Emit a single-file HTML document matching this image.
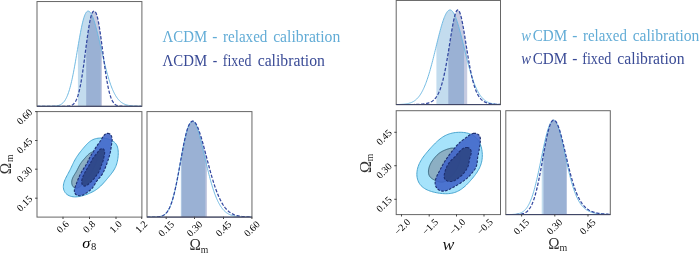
<!DOCTYPE html>
<html><head><meta charset="utf-8"><style>
html,body{margin:0;padding:0;background:#fff;overflow:hidden;}
svg{display:block;}
.t{font-family:"Liberation Serif",serif;font-size:10.0px;fill:#000;}
.ax{font-family:"Liberation Serif",serif;font-size:17px;fill:#111;}
.lg{font-family:"Liberation Serif",serif;font-size:16.5px;}
</style></head><body>
<div style="position:absolute;left:0;top:0;width:700px;height:253px;will-change:transform"><svg width="700" height="253" viewBox="0 0 700 253">
<rect width="700" height="253" fill="#fff"/>
<clipPath id="ca"><rect x="37" y="1.55" width="104.9" height="104.75"/></clipPath>
<g clip-path="url(#ca)">
<path d="M77.90,106.3 L77.90,47.06 L78.00,46.47 L78.50,43.52 L79.00,40.62 L79.50,37.77 L80.00,35.00 L80.50,32.32 L81.00,29.74 L81.50,27.29 L82.00,24.97 L82.50,22.80 L83.00,20.80 L83.50,18.96 L84.00,17.31 L84.50,15.85 L85.00,14.58 L85.50,13.51 L86.00,12.65 L86.50,11.97 L87.00,11.50 L87.50,11.20 L88.00,11.08 L88.50,11.10 L89.00,11.28 L89.50,11.60 L90.00,12.07 L90.50,12.68 L91.00,13.43 L91.50,14.31 L92.00,15.31 L92.50,16.44 L93.00,17.69 L93.50,19.05 L94.00,20.51 L94.50,22.07 L95.00,23.72 L95.50,25.46 L96.00,27.28 L96.50,29.16 L97.00,31.11 L97.50,33.12 L98.00,35.17 L98.50,37.26 L99.00,39.39 L99.50,41.55 L100.00,43.72 L100.50,45.91 L100.80,47.23 L100.80,106.3 Z" fill="#c3dcee"/>
<path d="M86.20,106.3 L86.20,45.78 L86.50,43.50 L87.00,39.76 L87.50,36.12 L88.00,32.63 L88.50,29.31 L89.00,26.21 L89.50,23.34 L90.00,20.74 L90.50,18.43 L91.00,16.43 L91.50,14.74 L92.00,13.38 L92.50,12.35 L93.00,11.64 L93.50,11.22 L94.00,11.08 L94.50,11.13 L95.00,11.43 L95.50,12.03 L96.00,12.93 L96.50,14.16 L97.00,15.72 L97.50,17.59 L98.00,19.78 L98.50,22.27 L99.00,25.03 L99.50,28.04 L100.00,31.28 L100.50,34.70 L101.00,38.29 L101.50,41.99 L102.00,45.78 L102.00,106.3 Z" fill="#2b3f8f" fill-opacity="0.27"/>
</g>
<g clip-path="url(#ca)">
<path d="M37.00,106.30 L37.50,106.30 L38.00,106.30 L38.50,106.30 L39.00,106.30 L39.50,106.30 L40.00,106.30 L40.50,106.30 L41.00,106.30 L41.50,106.30 L42.00,106.30 L42.50,106.30 L43.00,106.30 L43.50,106.30 L44.00,106.30 L44.50,106.30 L45.00,106.30 L45.50,106.30 L46.00,106.30 L46.50,106.30 L47.00,106.29 L47.50,106.29 L48.00,106.29 L48.50,106.29 L49.00,106.28 L49.50,106.28 L50.00,106.27 L50.50,106.27 L51.00,106.26 L51.50,106.25 L52.00,106.23 L52.50,106.22 L53.00,106.20 L53.50,106.17 L54.00,106.14 L54.50,106.11 L55.00,106.07 L55.50,106.02 L56.00,105.96 L56.50,105.89 L57.00,105.80 L57.50,105.71 L58.00,105.59 L58.50,105.46 L59.00,105.30 L59.50,105.11 L60.00,104.90 L60.50,104.66 L61.00,104.38 L61.50,104.06 L62.00,103.70 L62.50,103.28 L63.00,102.82 L63.50,102.29 L64.00,101.70 L64.50,101.04 L65.00,100.30 L65.50,99.48 L66.00,98.58 L66.50,97.59 L67.00,96.49 L67.50,95.30 L68.00,94.00 L68.50,92.60 L69.00,91.08 L69.50,89.44 L70.00,87.69 L70.50,85.82 L71.00,83.83 L71.50,81.73 L72.00,79.51 L72.50,77.18 L73.00,74.74 L73.50,72.20 L74.00,69.57 L74.50,66.86 L75.00,64.07 L75.50,61.22 L76.00,58.31 L76.50,55.37 L77.00,52.41 L77.50,49.43 L78.00,46.47 L78.50,43.52 L79.00,40.62 L79.50,37.77 L80.00,35.00 L80.50,32.32 L81.00,29.74 L81.50,27.29 L82.00,24.97 L82.50,22.80 L83.00,20.80 L83.50,18.96 L84.00,17.31 L84.50,15.85 L85.00,14.58 L85.50,13.51 L86.00,12.65 L86.50,11.97 L87.00,11.50 L87.50,11.20 L88.00,11.08 L88.50,11.10 L89.00,11.28 L89.50,11.60 L90.00,12.07 L90.50,12.68 L91.00,13.43 L91.50,14.31 L92.00,15.31 L92.50,16.44 L93.00,17.69 L93.50,19.05 L94.00,20.51 L94.50,22.07 L95.00,23.72 L95.50,25.46 L96.00,27.28 L96.50,29.16 L97.00,31.11 L97.50,33.12 L98.00,35.17 L98.50,37.26 L99.00,39.39 L99.50,41.55 L100.00,43.72 L100.50,45.91 L101.00,48.10 L101.50,50.30 L102.00,52.48 L102.50,54.66 L103.00,56.81 L103.50,58.94 L104.00,61.05 L104.50,63.12 L105.00,65.15 L105.50,67.15 L106.00,69.09 L106.50,71.00 L107.00,72.85 L107.50,74.64 L108.00,76.39 L108.50,78.07 L109.00,79.70 L109.50,81.27 L110.00,82.78 L110.50,84.22 L111.00,85.61 L111.50,86.94 L112.00,88.21 L112.50,89.41 L113.00,90.56 L113.50,91.65 L114.00,92.69 L114.50,93.67 L115.00,94.59 L115.50,95.46 L116.00,96.28 L116.50,97.05 L117.00,97.78 L117.50,98.45 L118.00,99.09 L118.50,99.68 L119.00,100.23 L119.50,100.74 L120.00,101.22 L120.50,101.66 L121.00,102.07 L121.50,102.45 L122.00,102.80 L122.50,103.12 L123.00,103.42 L123.50,103.69 L124.00,103.94 L124.50,104.17 L125.00,104.38 L125.50,104.57 L126.00,104.74 L126.50,104.90 L127.00,105.04 L127.50,105.17 L128.00,105.29 L128.50,105.40 L129.00,105.50 L129.50,105.59 L130.00,105.66 L130.50,105.73 L131.00,105.80 L131.50,105.86 L132.00,105.91 L132.50,105.95 L133.00,105.99 L133.50,106.03 L134.00,106.06 L134.50,106.09 L135.00,106.12 L135.50,106.14 L136.00,106.16 L136.50,106.18 L137.00,106.19 L137.50,106.21 L138.00,106.22 L138.50,106.23 L139.00,106.24 L139.50,106.25 L140.00,106.25 L140.50,106.26 L141.00,106.27 L141.50,106.27" fill="none" stroke="#6ab6e0" stroke-width="0.95"/>
<path d="M37.00,106.30 L37.50,106.30 L38.00,106.30 L38.50,106.30 L39.00,106.30 L39.50,106.30 L40.00,106.30 L40.50,106.30 L41.00,106.30 L41.50,106.30 L42.00,106.30 L42.50,106.30 L43.00,106.30 L43.50,106.30 L44.00,106.30 L44.50,106.30 L45.00,106.30 L45.50,106.30 L46.00,106.30 L46.50,106.30 L47.00,106.30 L47.50,106.30 L48.00,106.30 L48.50,106.30 L49.00,106.30 L49.50,106.30 L50.00,106.30 L50.50,106.30 L51.00,106.30 L51.50,106.30 L52.00,106.30 L52.50,106.30 L53.00,106.30 L53.50,106.30 L54.00,106.30 L54.50,106.30 L55.00,106.30 L55.50,106.30 L56.00,106.30 L56.50,106.30 L57.00,106.30 L57.50,106.30 L58.00,106.30 L58.50,106.30 L59.00,106.30 L59.50,106.30 L60.00,106.30 L60.50,106.30 L61.00,106.30 L61.50,106.30 L62.00,106.30 L62.50,106.29 L63.00,106.29 L63.50,106.29 L64.00,106.28 L64.50,106.28 L65.00,106.27 L65.50,106.26 L66.00,106.24 L66.50,106.22 L67.00,106.20 L67.50,106.16 L68.00,106.12 L68.50,106.07 L69.00,106.00 L69.50,105.92 L70.00,105.81 L70.50,105.68 L71.00,105.52 L71.50,105.32 L72.00,105.08 L72.50,104.79 L73.00,104.44 L73.50,104.02 L74.00,103.53 L74.50,102.95 L75.00,102.27 L75.50,101.47 L76.00,100.56 L76.50,99.51 L77.00,98.31 L77.50,96.96 L78.00,95.44 L78.50,93.73 L79.00,91.84 L79.50,89.76 L80.00,87.48 L80.50,85.00 L81.00,82.32 L81.50,79.45 L82.00,76.39 L82.50,73.16 L83.00,69.76 L83.50,66.23 L84.00,62.57 L84.50,58.82 L85.00,55.01 L85.50,51.16 L86.00,47.31 L86.50,43.50 L87.00,39.76 L87.50,36.12 L88.00,32.63 L88.50,29.31 L89.00,26.21 L89.50,23.34 L90.00,20.74 L90.50,18.43 L91.00,16.43 L91.50,14.74 L92.00,13.38 L92.50,12.35 L93.00,11.64 L93.50,11.22 L94.00,11.08 L94.50,11.13 L95.00,11.43 L95.50,12.03 L96.00,12.93 L96.50,14.16 L97.00,15.72 L97.50,17.59 L98.00,19.78 L98.50,22.27 L99.00,25.03 L99.50,28.04 L100.00,31.28 L100.50,34.70 L101.00,38.29 L101.50,41.99 L102.00,45.78 L102.50,49.62 L103.00,53.47 L103.50,57.30 L104.00,61.08 L104.50,64.78 L105.00,68.36 L105.50,71.82 L106.00,75.12 L106.50,78.25 L107.00,81.20 L107.50,83.95 L108.00,86.51 L108.50,88.87 L109.00,91.04 L109.50,93.00 L110.00,94.78 L110.50,96.37 L111.00,97.79 L111.50,99.05 L112.00,100.16 L112.50,101.12 L113.00,101.96 L113.50,102.69 L114.00,103.31 L114.50,103.84 L115.00,104.28 L115.50,104.66 L116.00,104.97 L116.50,105.23 L117.00,105.44 L117.50,105.62 L118.00,105.76 L118.50,105.88 L119.00,105.97 L119.50,106.04 L120.00,106.10 L120.50,106.15 L121.00,106.18 L121.50,106.21 L122.00,106.23 L122.50,106.25 L123.00,106.26 L123.50,106.27 L124.00,106.28 L124.50,106.29 L125.00,106.29 L125.50,106.29 L126.00,106.29 L126.50,106.30 L127.00,106.30 L127.50,106.30 L128.00,106.30 L128.50,106.30 L129.00,106.30 L129.50,106.30 L130.00,106.30 L130.50,106.30 L131.00,106.30 L131.50,106.30 L132.00,106.30 L132.50,106.30 L133.00,106.30 L133.50,106.30 L134.00,106.30 L134.50,106.30 L135.00,106.30 L135.50,106.30 L136.00,106.30 L136.50,106.30 L137.00,106.30 L137.50,106.30 L138.00,106.30 L138.50,106.30 L139.00,106.30 L139.50,106.30 L140.00,106.30 L140.50,106.30 L141.00,106.30 L141.50,106.30" fill="none" stroke="#3247a0" stroke-width="1.25" stroke-dasharray="3.3,1.7"/>
</g>
<rect x="37" y="1.55" width="104.90" height="104.75" fill="none" stroke="#666666" stroke-width="1.0"/>
<line x1="37" y1="106.3" x2="141.9" y2="106.3" stroke="#3b4265" stroke-width="1.0"/>
<clipPath id="cb"><rect x="37" y="111.6" width="104.9" height="105.5"/></clipPath>
<g clip-path="url(#cb)">
<path d="M99.50,138.10 L100.98,138.06 L102.48,138.11 L104.00,138.25 L105.50,138.47 L106.98,138.76 L108.42,139.14 L109.79,139.58 L111.07,140.11 L112.27,140.70 L113.36,141.38 L114.34,142.13 L115.20,142.97 L115.94,143.88 L116.57,144.88 L117.09,145.96 L117.50,147.12 L117.81,148.36 L118.04,149.66 L118.18,151.02 L118.25,152.44 L118.25,153.88 L118.19,155.36 L118.07,156.84 L117.90,158.31 L117.67,159.77 L117.39,161.21 L117.06,162.60 L116.67,163.95 L116.24,165.25 L115.74,166.50 L115.20,167.70 L114.60,168.86 L113.95,169.98 L113.25,171.07 L112.51,172.14 L111.73,173.20 L110.92,174.26 L110.07,175.31 L109.20,176.38 L108.31,177.45 L107.40,178.54 L106.48,179.63 L105.55,180.72 L104.60,181.81 L103.64,182.89 L102.67,183.95 L101.69,184.98 L100.69,185.97 L99.68,186.92 L98.64,187.82 L97.59,188.67 L96.52,189.46 L95.42,190.20 L94.30,190.89 L93.15,191.54 L91.98,192.14 L90.78,192.71 L89.55,193.26 L88.30,193.77 L87.02,194.27 L85.71,194.74 L84.37,195.18 L83.01,195.60 L81.62,195.97 L80.21,196.30 L78.78,196.56 L77.35,196.76 L75.91,196.86 L74.48,196.87 L73.07,196.77 L71.70,196.54 L70.38,196.19 L69.12,195.70 L67.96,195.09 L66.89,194.35 L65.95,193.48 L65.13,192.51 L64.47,191.43 L63.95,190.27 L63.59,189.04 L63.39,187.75 L63.34,186.43 L63.44,185.08 L63.67,183.72 L64.03,182.35 L64.48,181.00 L65.02,179.66 L65.62,178.34 L66.27,177.03 L66.94,175.75 L67.61,174.49 L68.29,173.24 L68.95,172.00 L69.59,170.77 L70.21,169.56 L70.81,168.34 L71.38,167.13 L71.95,165.93 L72.52,164.72 L73.09,163.52 L73.67,162.32 L74.28,161.12 L74.93,159.93 L75.60,158.75 L76.32,157.57 L77.07,156.40 L77.86,155.24 L78.68,154.08 L79.54,152.93 L80.41,151.79 L81.30,150.66 L82.19,149.55 L83.10,148.45 L84.00,147.37 L84.91,146.31 L85.83,145.29 L86.75,144.30 L87.68,143.36 L88.64,142.48 L89.63,141.66 L90.66,140.91 L91.74,140.24 L92.88,139.66 L94.08,139.16 L95.35,138.75 L96.67,138.44 L98.06,138.22 Z" fill="#a6e3fb" fill-opacity="1.0" stroke="#4aa6d0" stroke-width="1.0"/>
<path d="M93.13,152.05 L93.71,152.12 L94.26,152.29 L94.78,152.57 L95.25,152.95 L95.68,153.42 L96.06,153.98 L96.37,154.60 L96.63,155.29 L96.82,156.03 L96.96,156.80 L97.03,157.59 L97.04,158.39 L96.99,159.19 L96.90,159.98 L96.75,160.75 L96.57,161.49 L96.35,162.22 L96.11,162.91 L95.84,163.58 L95.55,164.23 L95.25,164.86 L94.95,165.48 L94.64,166.10 L94.33,166.71 L94.02,167.33 L93.70,167.95 L93.39,168.59 L93.08,169.23 L92.76,169.89 L92.44,170.56 L92.11,171.24 L91.77,171.92 L91.43,172.60 L91.07,173.28 L90.71,173.95 L90.32,174.61 L89.93,175.25 L89.53,175.88 L89.11,176.48 L88.69,177.07 L88.26,177.64 L87.82,178.19 L87.38,178.73 L86.93,179.26 L86.48,179.78 L86.03,180.30 L85.57,180.83 L85.11,181.36 L84.64,181.91 L84.16,182.46 L83.67,183.02 L83.17,183.59 L82.65,184.16 L82.11,184.72 L81.56,185.28 L80.98,185.81 L80.39,186.32 L79.78,186.78 L79.14,187.20 L78.50,187.54 L77.85,187.82 L77.19,188.01 L76.54,188.12 L75.90,188.13 L75.28,188.04 L74.69,187.85 L74.13,187.56 L73.61,187.18 L73.15,186.72 L72.75,186.17 L72.40,185.56 L72.13,184.89 L71.92,184.17 L71.79,183.42 L71.72,182.65 L71.73,181.86 L71.79,181.08 L71.92,180.31 L72.10,179.56 L72.33,178.83 L72.59,178.12 L72.89,177.44 L73.22,176.78 L73.56,176.15 L73.92,175.54 L74.29,174.94 L74.65,174.35 L75.02,173.76 L75.39,173.18 L75.75,172.58 L76.10,171.97 L76.45,171.35 L76.79,170.72 L77.13,170.07 L77.47,169.40 L77.81,168.73 L78.15,168.04 L78.49,167.36 L78.84,166.67 L79.20,165.99 L79.56,165.33 L79.94,164.67 L80.32,164.04 L80.71,163.42 L81.11,162.83 L81.51,162.25 L81.93,161.70 L82.35,161.15 L82.78,160.62 L83.21,160.09 L83.66,159.57 L84.12,159.04 L84.58,158.50 L85.06,157.96 L85.55,157.40 L86.06,156.84 L86.58,156.27 L87.11,155.69 L87.67,155.13 L88.24,154.58 L88.83,154.05 L89.43,153.56 L90.04,153.12 L90.66,152.74 L91.29,152.43 L91.91,152.21 L92.53,152.08 Z" fill="#8cafc3" fill-opacity="1.0" stroke="#3b6980" stroke-width="1.0"/>
<path d="M107.86,133.23 L108.88,133.41 L109.84,133.91 L110.66,134.68 L111.32,135.67 L111.78,136.82 L112.06,138.06 L112.16,139.33 L112.13,140.59 L112.01,141.81 L111.83,142.99 L111.64,144.13 L111.46,145.27 L111.29,146.40 L111.12,147.56 L110.95,148.74 L110.77,149.94 L110.55,151.16 L110.31,152.37 L110.02,153.57 L109.72,154.74 L109.39,155.89 L109.05,157.02 L108.71,158.14 L108.37,159.25 L108.01,160.37 L107.64,161.50 L107.25,162.64 L106.84,163.79 L106.41,164.94 L105.97,166.09 L105.52,167.22 L105.07,168.33 L104.62,169.43 L104.16,170.51 L103.68,171.57 L103.16,172.62 L102.58,173.65 L101.94,174.66 L101.24,175.65 L100.48,176.61 L99.69,177.55 L98.89,178.47 L98.10,179.38 L97.36,180.30 L96.66,181.24 L96.02,182.21 L95.42,183.21 L94.82,184.24 L94.21,185.28 L93.56,186.32 L92.85,187.32 L92.07,188.28 L91.23,189.18 L90.34,190.00 L89.43,190.77 L88.51,191.49 L87.57,192.17 L86.63,192.83 L85.66,193.48 L84.65,194.11 L83.58,194.68 L82.44,195.17 L81.23,195.53 L79.99,195.72 L78.75,195.70 L77.58,195.45 L76.52,194.97 L75.64,194.27 L74.98,193.39 L74.55,192.35 L74.36,191.22 L74.38,190.04 L74.58,188.83 L74.89,187.64 L75.29,186.47 L75.72,185.33 L76.16,184.20 L76.58,183.10 L77.00,182.00 L77.42,180.89 L77.84,179.79 L78.27,178.68 L78.73,177.57 L79.22,176.47 L79.73,175.37 L80.27,174.29 L80.84,173.23 L81.42,172.18 L82.02,171.15 L82.64,170.12 L83.28,169.11 L83.92,168.11 L84.57,167.10 L85.22,166.10 L85.85,165.08 L86.45,164.05 L87.03,163.00 L87.59,161.94 L88.12,160.86 L88.65,159.77 L89.18,158.69 L89.73,157.62 L90.29,156.56 L90.88,155.52 L91.49,154.50 L92.12,153.49 L92.75,152.49 L93.38,151.48 L94.01,150.46 L94.64,149.44 L95.27,148.40 L95.91,147.37 L96.57,146.34 L97.25,145.34 L97.94,144.36 L98.63,143.40 L99.32,142.45 L99.99,141.50 L100.64,140.53 L101.27,139.51 L101.90,138.47 L102.55,137.40 L103.24,136.34 L104.01,135.34 L104.87,134.47 L105.81,133.79 L106.82,133.36 Z" fill="#3f63c8" fill-opacity="0.88" stroke="#1d2f70" stroke-width="1.1" stroke-dasharray="2.6,1.4"/>
<path d="M102.78,148.77 L103.33,149.03 L103.80,149.44 L104.17,149.98 L104.43,150.63 L104.59,151.34 L104.66,152.10 L104.64,152.88 L104.57,153.65 L104.46,154.40 L104.32,155.12 L104.19,155.81 L104.05,156.49 L103.92,157.16 L103.79,157.83 L103.66,158.50 L103.51,159.19 L103.35,159.89 L103.15,160.59 L102.93,161.30 L102.68,162.01 L102.41,162.70 L102.13,163.39 L101.85,164.06 L101.57,164.72 L101.31,165.37 L101.07,166.02 L100.85,166.68 L100.63,167.35 L100.42,168.03 L100.20,168.72 L99.97,169.41 L99.71,170.10 L99.42,170.79 L99.10,171.46 L98.75,172.10 L98.38,172.72 L97.99,173.32 L97.59,173.90 L97.18,174.47 L96.77,175.03 L96.35,175.59 L95.93,176.16 L95.50,176.74 L95.07,177.33 L94.61,177.91 L94.14,178.49 L93.66,179.06 L93.17,179.60 L92.67,180.12 L92.16,180.62 L91.65,181.10 L91.15,181.57 L90.65,182.04 L90.14,182.52 L89.63,183.01 L89.10,183.52 L88.56,184.03 L87.98,184.53 L87.37,185.01 L86.74,185.44 L86.08,185.78 L85.42,186.01 L84.76,186.11 L84.13,186.07 L83.54,185.87 L83.02,185.52 L82.58,185.03 L82.22,184.43 L81.96,183.75 L81.79,183.01 L81.70,182.24 L81.69,181.47 L81.75,180.72 L81.86,179.99 L82.00,179.28 L82.19,178.61 L82.40,177.95 L82.63,177.31 L82.89,176.67 L83.16,176.02 L83.46,175.37 L83.78,174.72 L84.11,174.06 L84.45,173.40 L84.81,172.74 L85.16,172.09 L85.51,171.46 L85.86,170.84 L86.21,170.22 L86.55,169.61 L86.90,169.01 L87.25,168.40 L87.61,167.79 L87.97,167.17 L88.34,166.54 L88.72,165.91 L89.11,165.27 L89.49,164.64 L89.86,164.01 L90.22,163.38 L90.56,162.76 L90.89,162.14 L91.20,161.51 L91.52,160.89 L91.83,160.26 L92.17,159.63 L92.52,158.99 L92.91,158.37 L93.32,157.75 L93.76,157.15 L94.22,156.56 L94.69,156.00 L95.16,155.45 L95.62,154.92 L96.06,154.39 L96.49,153.86 L96.89,153.31 L97.29,152.73 L97.70,152.14 L98.13,151.53 L98.59,150.92 L99.09,150.33 L99.64,149.79 L100.24,149.33 L100.87,148.97 L101.52,148.75 L102.17,148.68 Z" fill="#2c4482" fill-opacity="0.88" stroke="#1d2f70" stroke-width="1.1" stroke-dasharray="2.6,1.4"/>
</g>
<rect x="37" y="111.6" width="104.90" height="105.50" fill="none" stroke="#666666" stroke-width="1.0"/>
<clipPath id="cc"><rect x="147" y="111.6" width="104.94999999999999" height="105.5"/></clipPath>
<g clip-path="url(#cc)">
<path d="M180.80,217.1 L180.80,160.04 L181.00,158.93 L181.50,156.15 L182.00,153.41 L182.50,150.71 L183.00,148.06 L183.50,145.49 L184.00,143.00 L184.50,140.61 L185.00,138.32 L185.50,136.15 L186.00,134.11 L186.50,132.21 L187.00,130.45 L187.50,128.84 L188.00,127.38 L188.50,126.09 L189.00,124.95 L189.50,123.97 L190.00,123.15 L190.50,122.48 L191.00,121.97 L191.50,121.59 L192.00,121.35 L192.50,121.22 L193.00,121.19 L193.50,121.34 L194.00,121.72 L194.50,122.29 L195.00,123.02 L195.50,123.92 L196.00,124.95 L196.50,126.13 L197.00,127.42 L197.50,128.83 L198.00,130.35 L198.50,131.97 L199.00,133.67 L199.50,135.45 L200.00,137.31 L200.50,139.22 L201.00,141.20 L201.50,143.22 L202.00,145.28 L202.50,147.37 L203.00,149.48 L203.50,151.62 L204.00,153.77 L204.50,155.92 L205.00,158.07 L205.50,160.21 L205.50,217.1 Z" fill="#c3dcee"/>
<path d="M181.50,217.1 L181.50,156.15 L181.50,156.15 L182.00,153.41 L182.50,150.71 L183.00,148.06 L183.50,145.49 L184.00,143.00 L184.50,140.61 L185.00,138.32 L185.50,136.15 L186.00,134.11 L186.50,132.21 L187.00,130.45 L187.50,128.84 L188.00,127.38 L188.50,126.09 L189.00,124.95 L189.50,123.97 L190.00,123.15 L190.50,122.48 L191.00,121.97 L191.50,121.59 L192.00,121.35 L192.50,121.22 L193.00,121.19 L193.50,121.29 L194.00,121.55 L194.50,121.96 L195.00,122.49 L195.50,123.15 L196.00,123.93 L196.50,124.81 L197.00,125.80 L197.50,126.89 L198.00,128.07 L198.50,129.34 L199.00,130.69 L199.50,132.12 L200.00,133.61 L200.50,135.17 L201.00,136.79 L201.50,138.47 L202.00,140.19 L202.50,141.96 L203.00,143.76 L203.50,145.60 L204.00,147.46 L204.50,149.34 L205.00,151.24 L205.50,153.16 L206.00,155.08 L206.50,157.00 L207.00,158.93 L207.00,217.1 Z" fill="#2b3f8f" fill-opacity="0.27"/>
</g>
<g clip-path="url(#cc)">
<path d="M147.00,217.10 L147.50,217.10 L148.00,217.10 L148.50,217.10 L149.00,217.10 L149.50,217.09 L150.00,217.09 L150.50,217.09 L151.00,217.09 L151.50,217.08 L152.00,217.08 L152.50,217.07 L153.00,217.07 L153.50,217.06 L154.00,217.05 L154.50,217.04 L155.00,217.02 L155.50,217.00 L156.00,216.98 L156.50,216.95 L157.00,216.92 L157.50,216.88 L158.00,216.83 L158.50,216.77 L159.00,216.70 L159.50,216.62 L160.00,216.53 L160.50,216.42 L161.00,216.29 L161.50,216.14 L162.00,215.96 L162.50,215.76 L163.00,215.53 L163.50,215.27 L164.00,214.97 L164.50,214.62 L165.00,214.23 L165.50,213.79 L166.00,213.30 L166.50,212.75 L167.00,212.13 L167.50,211.44 L168.00,210.68 L168.50,209.85 L169.00,208.92 L169.50,207.92 L170.00,206.81 L170.50,205.62 L171.00,204.32 L171.50,202.92 L172.00,201.42 L172.50,199.81 L173.00,198.10 L173.50,196.28 L174.00,194.35 L174.50,192.31 L175.00,190.18 L175.50,187.95 L176.00,185.62 L176.50,183.20 L177.00,180.71 L177.50,178.14 L178.00,175.50 L178.50,172.81 L179.00,170.08 L179.50,167.31 L180.00,164.52 L180.50,161.72 L181.00,158.93 L181.50,156.15 L182.00,153.41 L182.50,150.71 L183.00,148.06 L183.50,145.49 L184.00,143.00 L184.50,140.61 L185.00,138.32 L185.50,136.15 L186.00,134.11 L186.50,132.21 L187.00,130.45 L187.50,128.84 L188.00,127.38 L188.50,126.09 L189.00,124.95 L189.50,123.97 L190.00,123.15 L190.50,122.48 L191.00,121.97 L191.50,121.59 L192.00,121.35 L192.50,121.22 L193.00,121.19 L193.50,121.34 L194.00,121.72 L194.50,122.29 L195.00,123.02 L195.50,123.92 L196.00,124.95 L196.50,126.13 L197.00,127.42 L197.50,128.83 L198.00,130.35 L198.50,131.97 L199.00,133.67 L199.50,135.45 L200.00,137.31 L200.50,139.22 L201.00,141.20 L201.50,143.22 L202.00,145.28 L202.50,147.37 L203.00,149.48 L203.50,151.62 L204.00,153.77 L204.50,155.92 L205.00,158.07 L205.50,160.21 L206.00,162.35 L206.50,164.46 L207.00,166.56 L207.50,168.62 L208.00,170.66 L208.50,172.66 L209.00,174.63 L209.50,176.55 L210.00,178.44 L210.50,180.27 L211.00,182.06 L211.50,183.80 L212.00,185.49 L212.50,187.12 L213.00,188.71 L213.50,190.23 L214.00,191.71 L214.50,193.13 L215.00,194.49 L215.50,195.80 L216.00,197.06 L216.50,198.26 L217.00,199.40 L217.50,200.50 L218.00,201.54 L218.50,202.54 L219.00,203.48 L219.50,204.38 L220.00,205.23 L220.50,206.03 L221.00,206.79 L221.50,207.51 L222.00,208.19 L222.50,208.83 L223.00,209.43 L223.50,209.99 L224.00,210.52 L224.50,211.01 L225.00,211.48 L225.50,211.91 L226.00,212.32 L226.50,212.69 L227.00,213.05 L227.50,213.37 L228.00,213.68 L228.50,213.96 L229.00,214.22 L229.50,214.47 L230.00,214.69 L230.50,214.90 L231.00,215.09 L231.50,215.27 L232.00,215.43 L232.50,215.58 L233.00,215.72 L233.50,215.84 L234.00,215.96 L234.50,216.07 L235.00,216.16 L235.50,216.25 L236.00,216.33 L236.50,216.41 L237.00,216.47 L237.50,216.54 L238.00,216.59 L238.50,216.64 L239.00,216.69 L239.50,216.73 L240.00,216.77 L240.50,216.80 L241.00,216.83 L241.50,216.86 L242.00,216.89 L242.50,216.91 L243.00,216.93 L243.50,216.95 L244.00,216.96 L244.50,216.98 L245.00,216.99 L245.50,217.00 L246.00,217.02 L246.50,217.03 L247.00,217.03 L247.50,217.04 L248.00,217.05 L248.50,217.05 L249.00,217.06 L249.50,217.06 L250.00,217.07 L250.50,217.07 L251.00,217.08 L251.50,217.08" fill="none" stroke="#6ab6e0" stroke-width="0.95"/>
<path d="M147.00,217.10 L147.50,217.10 L148.00,217.10 L148.50,217.10 L149.00,217.10 L149.50,217.09 L150.00,217.09 L150.50,217.09 L151.00,217.09 L151.50,217.08 L152.00,217.08 L152.50,217.07 L153.00,217.07 L153.50,217.06 L154.00,217.05 L154.50,217.04 L155.00,217.02 L155.50,217.00 L156.00,216.98 L156.50,216.95 L157.00,216.92 L157.50,216.88 L158.00,216.83 L158.50,216.77 L159.00,216.70 L159.50,216.62 L160.00,216.53 L160.50,216.42 L161.00,216.29 L161.50,216.14 L162.00,215.96 L162.50,215.76 L163.00,215.53 L163.50,215.27 L164.00,214.97 L164.50,214.62 L165.00,214.23 L165.50,213.79 L166.00,213.30 L166.50,212.75 L167.00,212.13 L167.50,211.44 L168.00,210.68 L168.50,209.85 L169.00,208.92 L169.50,207.92 L170.00,206.81 L170.50,205.62 L171.00,204.32 L171.50,202.92 L172.00,201.42 L172.50,199.81 L173.00,198.10 L173.50,196.28 L174.00,194.35 L174.50,192.31 L175.00,190.18 L175.50,187.95 L176.00,185.62 L176.50,183.20 L177.00,180.71 L177.50,178.14 L178.00,175.50 L178.50,172.81 L179.00,170.08 L179.50,167.31 L180.00,164.52 L180.50,161.72 L181.00,158.93 L181.50,156.15 L182.00,153.41 L182.50,150.71 L183.00,148.06 L183.50,145.49 L184.00,143.00 L184.50,140.61 L185.00,138.32 L185.50,136.15 L186.00,134.11 L186.50,132.21 L187.00,130.45 L187.50,128.84 L188.00,127.38 L188.50,126.09 L189.00,124.95 L189.50,123.97 L190.00,123.15 L190.50,122.48 L191.00,121.97 L191.50,121.59 L192.00,121.35 L192.50,121.22 L193.00,121.19 L193.50,121.29 L194.00,121.55 L194.50,121.96 L195.00,122.49 L195.50,123.15 L196.00,123.93 L196.50,124.81 L197.00,125.80 L197.50,126.89 L198.00,128.07 L198.50,129.34 L199.00,130.69 L199.50,132.12 L200.00,133.61 L200.50,135.17 L201.00,136.79 L201.50,138.47 L202.00,140.19 L202.50,141.96 L203.00,143.76 L203.50,145.60 L204.00,147.46 L204.50,149.34 L205.00,151.24 L205.50,153.16 L206.00,155.08 L206.50,157.00 L207.00,158.93 L207.50,160.85 L208.00,162.76 L208.50,164.65 L209.00,166.53 L209.50,168.39 L210.00,170.23 L210.50,172.05 L211.00,173.83 L211.50,175.58 L212.00,177.31 L212.50,178.99 L213.00,180.64 L213.50,182.25 L214.00,183.83 L214.50,185.36 L215.00,186.85 L215.50,188.29 L216.00,189.69 L216.50,191.05 L217.00,192.37 L217.50,193.64 L218.00,194.86 L218.50,196.04 L219.00,197.18 L219.50,198.27 L220.00,199.32 L220.50,200.32 L221.00,201.29 L221.50,202.21 L222.00,203.09 L222.50,203.93 L223.00,204.73 L223.50,205.49 L224.00,206.21 L224.50,206.90 L225.00,207.56 L225.50,208.18 L226.00,208.76 L226.50,209.32 L227.00,209.84 L227.50,210.34 L228.00,210.81 L228.50,211.25 L229.00,211.66 L229.50,212.05 L230.00,212.41 L230.50,212.76 L231.00,213.08 L231.50,213.38 L232.00,213.66 L232.50,213.92 L233.00,214.17 L233.50,214.39 L234.00,214.61 L234.50,214.81 L235.00,214.99 L235.50,215.16 L236.00,215.32 L236.50,215.47 L237.00,215.60 L237.50,215.73 L238.00,215.84 L238.50,215.95 L239.00,216.05 L239.50,216.14 L240.00,216.23 L240.50,216.30 L241.00,216.38 L241.50,216.44 L242.00,216.50 L242.50,216.56 L243.00,216.61 L243.50,216.65 L244.00,216.69 L244.50,216.73 L245.00,216.77 L245.50,216.80 L246.00,216.83 L246.50,216.86 L247.00,216.88 L247.50,216.90 L248.00,216.92 L248.50,216.94 L249.00,216.96 L249.50,216.97 L250.00,216.98 L250.50,217.00 L251.00,217.01 L251.50,217.02" fill="none" stroke="#3247a0" stroke-width="1.25" stroke-dasharray="3.3,1.7"/>
</g>
<rect x="147" y="111.6" width="104.95" height="105.50" fill="none" stroke="#666666" stroke-width="1.0"/>
<line x1="147" y1="217.1" x2="251.95" y2="217.1" stroke="#3b4265" stroke-width="1.0"/>
<clipPath id="cd"><rect x="396.2" y="0.45" width="104.30000000000001" height="104.14999999999999"/></clipPath>
<g clip-path="url(#cd)">
<path d="M436.40,104.6 L436.40,45.53 L436.50,45.12 L437.00,43.08 L437.50,41.04 L438.00,39.03 L438.50,37.03 L439.00,35.06 L439.50,33.13 L440.00,31.24 L440.50,29.39 L441.00,27.59 L441.50,25.86 L442.00,24.18 L442.50,22.57 L443.00,21.04 L443.50,19.59 L444.00,18.23 L444.50,16.95 L445.00,15.77 L445.50,14.69 L446.00,13.70 L446.50,12.83 L447.00,12.07 L447.50,11.42 L448.00,10.88 L448.50,10.46 L449.00,10.16 L449.50,9.98 L450.00,9.92 L450.50,9.98 L451.00,10.16 L451.50,10.46 L452.00,10.88 L452.50,11.42 L453.00,12.07 L453.50,12.83 L454.00,13.70 L454.50,14.69 L455.00,15.77 L455.50,16.95 L456.00,18.23 L456.50,19.59 L457.00,21.04 L457.50,22.57 L458.00,24.18 L458.50,25.86 L459.00,27.59 L459.50,29.39 L460.00,31.24 L460.50,33.13 L461.00,35.06 L461.50,37.03 L462.00,39.03 L462.50,41.04 L463.00,43.08 L463.50,45.12 L464.00,47.17 L464.10,47.58 L464.10,104.6 Z" fill="#c3dcee"/>
<path d="M448.30,104.6 L448.30,52.30 L448.50,51.05 L449.00,47.92 L449.50,44.75 L450.00,41.58 L450.50,38.42 L451.00,35.30 L451.50,32.24 L452.00,29.28 L452.50,26.43 L453.00,23.73 L453.50,21.20 L454.00,18.87 L454.50,16.77 L455.00,14.91 L455.50,13.32 L456.00,12.02 L456.50,11.02 L457.00,10.34 L457.50,9.98 L458.00,9.94 L458.50,10.24 L459.00,10.86 L459.50,11.80 L460.00,13.04 L460.50,14.57 L461.00,16.38 L461.50,18.43 L462.00,20.72 L462.50,23.21 L463.00,25.88 L463.50,28.70 L464.00,31.64 L464.50,34.68 L465.00,37.79 L465.50,40.94 L466.00,44.11 L466.50,47.28 L467.00,50.43 L467.20,51.68 L467.20,104.6 Z" fill="#2b3f8f" fill-opacity="0.27"/>
</g>
<g clip-path="url(#cd)">
<path d="M396.20,104.54 L396.70,104.53 L397.20,104.52 L397.70,104.51 L398.20,104.50 L398.70,104.49 L399.20,104.47 L399.70,104.45 L400.20,104.43 L400.70,104.41 L401.20,104.38 L401.70,104.35 L402.20,104.32 L402.70,104.29 L403.20,104.25 L403.70,104.20 L404.20,104.15 L404.70,104.10 L405.20,104.03 L405.70,103.97 L406.20,103.89 L406.70,103.81 L407.20,103.72 L407.70,103.61 L408.20,103.50 L408.70,103.38 L409.20,103.24 L409.70,103.10 L410.20,102.94 L410.70,102.76 L411.20,102.57 L411.70,102.36 L412.20,102.13 L412.70,101.88 L413.20,101.61 L413.70,101.32 L414.20,101.00 L414.70,100.66 L415.20,100.29 L415.70,99.89 L416.20,99.46 L416.70,99.01 L417.20,98.51 L417.70,97.99 L418.20,97.42 L418.70,96.82 L419.20,96.18 L419.70,95.50 L420.20,94.77 L420.70,94.00 L421.20,93.19 L421.70,92.33 L422.20,91.42 L422.70,90.46 L423.20,89.45 L423.70,88.38 L424.20,87.27 L424.70,86.10 L425.20,84.88 L425.70,83.61 L426.20,82.28 L426.70,80.90 L427.20,79.46 L427.70,77.97 L428.20,76.43 L428.70,74.84 L429.20,73.20 L429.70,71.51 L430.20,69.77 L430.70,67.99 L431.20,66.17 L431.70,64.31 L432.20,62.41 L432.70,60.47 L433.20,58.51 L433.70,56.53 L434.20,54.52 L434.70,52.49 L435.20,50.45 L435.70,48.40 L436.20,46.35 L436.70,44.30 L437.20,42.26 L437.70,40.23 L438.20,38.23 L438.70,36.24 L439.20,34.29 L439.70,32.37 L440.20,30.49 L440.70,28.66 L441.20,26.89 L441.70,25.18 L442.20,23.53 L442.70,21.95 L443.20,20.45 L443.70,19.04 L444.20,17.70 L444.70,16.47 L445.20,15.32 L445.70,14.28 L446.20,13.34 L446.70,12.51 L447.20,11.79 L447.70,11.19 L448.20,10.70 L448.70,10.33 L449.20,10.07 L449.70,9.94 L450.20,9.93 L450.70,10.04 L451.20,10.27 L451.70,10.61 L452.20,11.08 L452.70,11.66 L453.20,12.36 L453.70,13.17 L454.20,14.08 L454.70,15.11 L455.20,16.23 L455.70,17.45 L456.20,18.76 L456.70,20.16 L457.20,21.65 L457.70,23.21 L458.20,24.84 L458.70,26.54 L459.20,28.31 L459.70,30.12 L460.20,31.99 L460.70,33.90 L461.20,35.85 L461.70,37.83 L462.20,39.83 L462.70,41.86 L463.20,43.89 L463.70,45.94 L464.20,47.99 L464.70,50.04 L465.20,52.08 L465.70,54.11 L466.20,56.13 L466.70,58.12 L467.20,60.08 L467.70,62.02 L468.20,63.93 L468.70,65.80 L469.20,67.63 L469.70,69.42 L470.20,71.16 L470.70,72.86 L471.20,74.52 L471.70,76.12 L472.20,77.67 L472.70,79.17 L473.20,80.61 L473.70,82.01 L474.20,83.35 L474.70,84.63 L475.20,85.86 L475.70,87.04 L476.20,88.17 L476.70,89.24 L477.20,90.26 L477.70,91.23 L478.20,92.15 L478.70,93.02 L479.20,93.84 L479.70,94.62 L480.20,95.36 L480.70,96.05 L481.20,96.70 L481.70,97.31 L482.20,97.88 L482.70,98.41 L483.20,98.91 L483.70,99.38 L484.20,99.81 L484.70,100.21 L485.20,100.59 L485.70,100.93 L486.20,101.25 L486.70,101.55 L487.20,101.83 L487.70,102.08 L488.20,102.31 L488.70,102.53 L489.20,102.72 L489.70,102.90 L490.20,103.07 L490.70,103.22 L491.20,103.35 L491.70,103.48 L492.20,103.59 L492.70,103.70 L493.20,103.79 L493.70,103.87 L494.20,103.95 L494.70,104.02 L495.20,104.08 L495.70,104.14 L496.20,104.19 L496.70,104.24 L497.20,104.28 L497.70,104.31 L498.20,104.35 L498.70,104.38 L499.20,104.40 L499.70,104.43 L500.20,104.45" fill="none" stroke="#6ab6e0" stroke-width="0.95"/>
<path d="M396.20,104.59 L396.70,104.59 L397.20,104.59 L397.70,104.59 L398.20,104.59 L398.70,104.59 L399.20,104.59 L399.70,104.59 L400.20,104.59 L400.70,104.59 L401.20,104.59 L401.70,104.59 L402.20,104.58 L402.70,104.58 L403.20,104.58 L403.70,104.58 L404.20,104.58 L404.70,104.58 L405.20,104.58 L405.70,104.57 L406.20,104.57 L406.70,104.57 L407.20,104.57 L407.70,104.56 L408.20,104.56 L408.70,104.56 L409.20,104.55 L409.70,104.55 L410.20,104.54 L410.70,104.54 L411.20,104.53 L411.70,104.53 L412.20,104.52 L412.70,104.51 L413.20,104.51 L413.70,104.50 L414.20,104.49 L414.70,104.48 L415.20,104.46 L415.70,104.45 L416.20,104.44 L416.70,104.42 L417.20,104.41 L417.70,104.39 L418.20,104.37 L418.70,104.34 L419.20,104.32 L419.70,104.29 L420.20,104.26 L420.70,104.23 L421.20,104.19 L421.70,104.15 L422.20,104.11 L422.70,104.06 L423.20,104.00 L423.70,103.94 L424.20,103.88 L424.70,103.80 L425.20,103.72 L425.70,103.63 L426.20,103.53 L426.70,103.42 L427.20,103.30 L427.70,103.17 L428.20,103.03 L428.70,102.86 L429.20,102.69 L429.70,102.49 L430.20,102.27 L430.70,102.03 L431.20,101.77 L431.70,101.48 L432.20,101.16 L432.70,100.81 L433.20,100.43 L433.70,100.00 L434.20,99.54 L434.70,99.03 L435.20,98.47 L435.70,97.86 L436.20,97.19 L436.70,96.45 L437.20,95.66 L437.70,94.79 L438.20,93.84 L438.70,92.81 L439.20,91.70 L439.70,90.49 L440.20,89.19 L440.70,87.78 L441.20,86.27 L441.70,84.65 L442.20,82.91 L442.70,81.05 L443.20,79.07 L443.70,76.97 L444.20,74.75 L444.70,72.40 L445.20,69.93 L445.70,67.35 L446.20,64.65 L446.70,61.85 L447.20,58.95 L447.70,55.97 L448.20,52.91 L448.70,49.80 L449.20,46.65 L449.70,43.48 L450.20,40.31 L450.70,37.16 L451.20,34.07 L451.70,31.04 L452.20,28.12 L452.70,25.33 L453.20,22.70 L453.70,20.25 L454.20,18.00 L454.70,15.99 L455.20,14.24 L455.70,12.77 L456.20,11.58 L456.70,10.71 L457.20,10.15 L457.70,9.92 L458.20,10.02 L458.70,10.45 L459.20,11.20 L459.70,12.26 L460.20,13.62 L460.70,15.26 L461.20,17.17 L461.70,19.32 L462.20,21.69 L462.70,24.26 L463.20,26.99 L463.70,29.86 L464.20,32.85 L464.70,35.92 L465.20,39.05 L465.70,42.21 L466.20,45.38 L466.70,48.55 L467.20,51.68 L467.70,54.76 L468.20,57.77 L468.70,60.70 L469.20,63.54 L469.70,66.28 L470.20,68.91 L470.70,71.43 L471.20,73.82 L471.70,76.10 L472.20,78.25 L472.70,80.27 L473.20,82.18 L473.70,83.96 L474.20,85.63 L474.70,87.19 L475.20,88.64 L475.70,89.98 L476.20,91.23 L476.70,92.38 L477.20,93.44 L477.70,94.42 L478.20,95.32 L478.70,96.14 L479.20,96.90 L479.70,97.59 L480.20,98.23 L480.70,98.81 L481.20,99.34 L481.70,99.82 L482.20,100.26 L482.70,100.66 L483.20,101.03 L483.70,101.36 L484.20,101.66 L484.70,101.93 L485.20,102.18 L485.70,102.41 L486.20,102.61 L486.70,102.80 L487.20,102.96 L487.70,103.12 L488.20,103.25 L488.70,103.38 L489.20,103.49 L489.70,103.59 L490.20,103.69 L490.70,103.77 L491.20,103.85 L491.70,103.92 L492.20,103.98 L492.70,104.04 L493.20,104.09 L493.70,104.13 L494.20,104.18 L494.70,104.21 L495.20,104.25 L495.70,104.28 L496.20,104.31 L496.70,104.33 L497.20,104.36 L497.70,104.38 L498.20,104.40 L498.70,104.42 L499.20,104.43 L499.70,104.45 L500.20,104.46" fill="none" stroke="#3247a0" stroke-width="1.25" stroke-dasharray="3.3,1.7"/>
</g>
<rect x="396.2" y="0.45" width="104.30" height="104.15" fill="none" stroke="#666666" stroke-width="1.0"/>
<line x1="396.2" y1="104.6" x2="500.5" y2="104.6" stroke="#3b4265" stroke-width="1.0"/>
<clipPath id="ce"><rect x="396.2" y="110.7" width="104.30000000000001" height="103.89999999999999"/></clipPath>
<g clip-path="url(#ce)">
<path d="M458.51,132.30 L460.13,132.28 L461.75,132.32 L463.37,132.44 L464.98,132.64 L466.56,132.92 L468.09,133.28 L469.58,133.74 L471.00,134.29 L472.35,134.94 L473.63,135.68 L474.82,136.53 L475.92,137.48 L476.93,138.52 L477.85,139.66 L478.67,140.88 L479.41,142.19 L480.06,143.57 L480.62,145.01 L481.10,146.51 L481.50,148.05 L481.82,149.62 L482.06,151.22 L482.22,152.83 L482.31,154.44 L482.31,156.04 L482.24,157.62 L482.09,159.19 L481.86,160.73 L481.55,162.23 L481.15,163.70 L480.68,165.14 L480.14,166.55 L479.52,167.92 L478.84,169.26 L478.09,170.57 L477.29,171.86 L476.44,173.12 L475.55,174.37 L474.62,175.61 L473.66,176.83 L472.67,178.05 L471.65,179.26 L470.62,180.45 L469.56,181.63 L468.49,182.80 L467.39,183.94 L466.27,185.05 L465.12,186.13 L463.94,187.16 L462.73,188.14 L461.48,189.05 L460.20,189.90 L458.89,190.67 L457.53,191.36 L456.14,191.96 L454.72,192.47 L453.26,192.89 L451.78,193.22 L450.27,193.46 L448.74,193.62 L447.20,193.71 L445.64,193.72 L444.08,193.68 L442.50,193.57 L440.93,193.41 L439.36,193.21 L437.79,192.96 L436.23,192.67 L434.68,192.35 L433.14,191.97 L431.62,191.55 L430.13,191.08 L428.67,190.55 L427.25,189.95 L425.89,189.27 L424.58,188.51 L423.34,187.66 L422.18,186.72 L421.12,185.69 L420.15,184.55 L419.30,183.32 L418.57,182.00 L417.97,180.61 L417.50,179.14 L417.15,177.61 L416.94,176.04 L416.86,174.45 L416.91,172.83 L417.07,171.22 L417.34,169.63 L417.71,168.06 L418.18,166.53 L418.72,165.04 L419.34,163.59 L420.02,162.20 L420.75,160.86 L421.53,159.56 L422.35,158.30 L423.20,157.07 L424.09,155.87 L425.00,154.69 L425.94,153.52 L426.90,152.35 L427.89,151.19 L428.90,150.02 L429.93,148.85 L430.98,147.68 L432.06,146.51 L433.16,145.34 L434.27,144.19 L435.41,143.05 L436.56,141.95 L437.73,140.88 L438.92,139.85 L440.13,138.87 L441.36,137.95 L442.61,137.10 L443.89,136.31 L445.20,135.60 L446.54,134.95 L447.91,134.38 L449.32,133.87 L450.76,133.44 L452.24,133.08 L453.76,132.78 L455.32,132.56 L456.90,132.40 Z" fill="#a6e3fb" fill-opacity="1.0" stroke="#4aa6d0" stroke-width="1.0"/>
<path d="M453.39,148.14 L454.13,148.27 L454.84,148.48 L455.52,148.77 L456.16,149.15 L456.76,149.60 L457.31,150.13 L457.81,150.73 L458.26,151.39 L458.66,152.10 L459.00,152.85 L459.30,153.62 L459.54,154.42 L459.73,155.22 L459.88,156.03 L459.98,156.83 L460.03,157.63 L460.04,158.41 L460.01,159.19 L459.94,159.95 L459.84,160.71 L459.69,161.47 L459.52,162.22 L459.32,162.96 L459.08,163.71 L458.82,164.46 L458.54,165.21 L458.23,165.96 L457.91,166.71 L457.56,167.45 L457.20,168.18 L456.83,168.90 L456.44,169.61 L456.04,170.30 L455.63,170.98 L455.20,171.63 L454.76,172.27 L454.31,172.90 L453.85,173.51 L453.37,174.11 L452.88,174.71 L452.37,175.30 L451.85,175.89 L451.31,176.47 L450.75,177.05 L450.17,177.63 L449.58,178.20 L448.97,178.76 L448.34,179.30 L447.70,179.81 L447.04,180.29 L446.37,180.73 L445.69,181.12 L445.00,181.45 L444.29,181.72 L443.57,181.93 L442.84,182.07 L442.10,182.14 L441.35,182.14 L440.59,182.08 L439.82,181.96 L439.05,181.79 L438.27,181.58 L437.48,181.33 L436.70,181.04 L435.92,180.73 L435.15,180.39 L434.39,180.03 L433.66,179.65 L432.95,179.25 L432.27,178.82 L431.64,178.37 L431.04,177.89 L430.51,177.38 L430.02,176.83 L429.60,176.23 L429.25,175.60 L428.96,174.93 L428.73,174.21 L428.57,173.46 L428.48,172.68 L428.44,171.87 L428.46,171.05 L428.53,170.21 L428.65,169.38 L428.82,168.55 L429.02,167.73 L429.25,166.94 L429.51,166.16 L429.80,165.41 L430.11,164.69 L430.44,163.99 L430.79,163.31 L431.16,162.65 L431.54,162.00 L431.95,161.36 L432.37,160.73 L432.81,160.10 L433.27,159.47 L433.75,158.84 L434.25,158.21 L434.77,157.58 L435.31,156.96 L435.86,156.34 L436.42,155.74 L437.01,155.15 L437.60,154.59 L438.20,154.05 L438.82,153.54 L439.44,153.06 L440.07,152.62 L440.71,152.20 L441.37,151.81 L442.03,151.44 L442.71,151.09 L443.39,150.76 L444.10,150.44 L444.82,150.13 L445.55,149.84 L446.30,149.54 L447.07,149.26 L447.85,149.00 L448.64,148.75 L449.44,148.53 L450.24,148.34 L451.04,148.20 L451.84,148.12 L452.62,148.10 Z" fill="#8cafc3" fill-opacity="1.0" stroke="#3b6980" stroke-width="1.0"/>
<path d="M473.41,133.39 L474.67,133.27 L475.91,133.39 L477.08,133.75 L478.12,134.34 L478.99,135.15 L479.65,136.13 L480.11,137.24 L480.36,138.43 L480.44,139.68 L480.40,140.93 L480.27,142.18 L480.11,143.42 L479.93,144.64 L479.76,145.84 L479.59,147.04 L479.42,148.25 L479.24,149.46 L479.03,150.67 L478.79,151.89 L478.53,153.11 L478.27,154.33 L478.02,155.55 L477.79,156.76 L477.61,157.98 L477.48,159.20 L477.36,160.42 L477.26,161.65 L477.12,162.88 L476.93,164.10 L476.65,165.30 L476.28,166.47 L475.79,167.60 L475.21,168.70 L474.55,169.75 L473.83,170.77 L473.07,171.75 L472.28,172.71 L471.49,173.66 L470.69,174.58 L469.87,175.49 L469.02,176.38 L468.15,177.25 L467.24,178.08 L466.29,178.89 L465.31,179.66 L464.31,180.40 L463.30,181.12 L462.28,181.81 L461.25,182.49 L460.23,183.17 L459.19,183.83 L458.15,184.48 L457.10,185.12 L456.03,185.75 L454.95,186.36 L453.86,186.96 L452.77,187.55 L451.67,188.12 L450.58,188.68 L449.47,189.23 L448.35,189.75 L447.22,190.22 L446.05,190.62 L444.86,190.92 L443.64,191.09 L442.40,191.11 L441.19,190.94 L440.01,190.58 L438.90,190.03 L437.90,189.29 L437.04,188.41 L436.32,187.39 L435.78,186.27 L435.40,185.10 L435.19,183.88 L435.12,182.66 L435.20,181.44 L435.40,180.23 L435.70,179.04 L436.09,177.88 L436.56,176.73 L437.07,175.60 L437.62,174.49 L438.19,173.38 L438.78,172.28 L439.36,171.19 L439.93,170.10 L440.50,169.01 L441.06,167.92 L441.62,166.83 L442.20,165.74 L442.79,164.66 L443.41,163.58 L444.05,162.52 L444.71,161.46 L445.39,160.42 L446.08,159.39 L446.78,158.38 L447.48,157.37 L448.18,156.37 L448.89,155.37 L449.62,154.37 L450.35,153.38 L451.11,152.39 L451.88,151.42 L452.66,150.44 L453.45,149.48 L454.24,148.52 L455.02,147.58 L455.81,146.64 L456.61,145.71 L457.42,144.80 L458.27,143.91 L459.14,143.04 L460.06,142.21 L461.02,141.40 L462.01,140.62 L463.01,139.87 L464.01,139.14 L465.00,138.41 L465.97,137.68 L466.93,136.94 L467.89,136.20 L468.88,135.48 L469.91,134.79 L471.01,134.19 L472.18,133.70 Z" fill="#3f63c8" fill-opacity="0.88" stroke="#1d2f70" stroke-width="1.1" stroke-dasharray="2.6,1.4"/>
<path d="M466.90,147.44 L467.62,147.54 L468.31,147.74 L468.96,148.06 L469.55,148.47 L470.08,148.97 L470.51,149.56 L470.85,150.21 L471.08,150.91 L471.21,151.64 L471.24,152.39 L471.19,153.14 L471.06,153.87 L470.88,154.60 L470.66,155.31 L470.43,156.00 L470.19,156.69 L469.97,157.37 L469.77,158.06 L469.60,158.75 L469.45,159.46 L469.32,160.17 L469.21,160.91 L469.10,161.65 L468.99,162.39 L468.87,163.14 L468.74,163.87 L468.57,164.59 L468.38,165.30 L468.16,165.98 L467.90,166.65 L467.61,167.31 L467.29,167.95 L466.94,168.59 L466.56,169.21 L466.17,169.84 L465.76,170.46 L465.33,171.08 L464.90,171.69 L464.45,172.29 L463.99,172.88 L463.52,173.45 L463.05,174.00 L462.56,174.53 L462.06,175.04 L461.54,175.53 L461.00,176.01 L460.45,176.48 L459.88,176.93 L459.29,177.39 L458.69,177.84 L458.08,178.29 L457.47,178.74 L456.85,179.17 L456.23,179.59 L455.61,179.99 L454.99,180.35 L454.37,180.68 L453.73,180.96 L453.08,181.19 L452.42,181.37 L451.72,181.49 L451.01,181.56 L450.27,181.56 L449.51,181.50 L448.75,181.38 L448.00,181.20 L447.28,180.94 L446.60,180.62 L445.98,180.24 L445.44,179.78 L444.99,179.26 L444.64,178.68 L444.39,178.05 L444.23,177.37 L444.15,176.66 L444.16,175.92 L444.22,175.17 L444.33,174.41 L444.47,173.66 L444.64,172.91 L444.82,172.18 L445.01,171.47 L445.22,170.77 L445.43,170.08 L445.66,169.41 L445.91,168.74 L446.18,168.08 L446.47,167.42 L446.78,166.75 L447.11,166.09 L447.47,165.43 L447.84,164.78 L448.23,164.14 L448.63,163.51 L449.05,162.90 L449.48,162.30 L449.93,161.73 L450.39,161.18 L450.88,160.64 L451.38,160.12 L451.89,159.61 L452.42,159.11 L452.96,158.62 L453.51,158.12 L454.05,157.61 L454.59,157.10 L455.12,156.57 L455.63,156.04 L456.12,155.49 L456.61,154.94 L457.08,154.38 L457.54,153.82 L458.01,153.25 L458.47,152.69 L458.94,152.14 L459.43,151.60 L459.93,151.06 L460.45,150.55 L460.99,150.04 L461.55,149.56 L462.14,149.11 L462.76,148.69 L463.40,148.32 L464.06,147.99 L464.75,147.73 L465.46,147.55 L466.18,147.45 Z" fill="#2c4482" fill-opacity="0.88" stroke="#1d2f70" stroke-width="1.1" stroke-dasharray="2.6,1.4"/>
</g>
<rect x="396.2" y="110.7" width="104.30" height="103.90" fill="none" stroke="#666666" stroke-width="1.0"/>
<clipPath id="cf"><rect x="505.8" y="110.7" width="104.49999999999994" height="103.89999999999999"/></clipPath>
<g clip-path="url(#cf)">
<path d="M541.70,214.6 L541.70,156.32 L542.00,154.85 L542.50,152.40 L543.00,149.98 L543.50,147.59 L544.00,145.25 L544.50,142.96 L545.00,140.73 L545.50,138.58 L546.00,136.51 L546.50,134.53 L547.00,132.65 L547.50,130.88 L548.00,129.23 L548.50,127.70 L549.00,126.31 L549.50,125.04 L550.00,123.92 L550.50,122.95 L551.00,122.11 L551.50,121.43 L552.00,120.90 L552.50,120.51 L553.00,120.26 L553.50,120.15 L554.00,120.18 L554.50,120.37 L555.00,120.73 L555.50,121.27 L556.00,121.97 L556.50,122.84 L557.00,123.86 L557.50,125.03 L558.00,126.35 L558.50,127.80 L559.00,129.38 L559.50,131.07 L560.00,132.87 L560.50,134.77 L561.00,136.76 L561.50,138.82 L562.00,140.95 L562.50,143.14 L563.00,145.37 L563.50,147.63 L564.00,149.92 L564.50,152.23 L565.00,154.54 L565.50,156.84 L566.00,159.14 L566.50,161.42 L566.50,214.6 Z" fill="#c3dcee"/>
<path d="M543.50,214.6 L543.50,154.51 L543.50,154.51 L544.00,151.72 L544.50,148.97 L545.00,146.27 L545.50,143.64 L546.00,141.08 L546.50,138.62 L547.00,136.26 L547.50,134.03 L548.00,131.93 L548.50,129.97 L549.00,128.18 L549.50,126.55 L550.00,125.09 L550.50,123.82 L551.00,122.73 L551.50,121.83 L552.00,121.13 L552.50,120.62 L553.00,120.30 L553.50,120.16 L554.00,120.17 L554.50,120.34 L555.00,120.66 L555.50,121.14 L556.00,121.76 L556.50,122.52 L557.00,123.42 L557.50,124.46 L558.00,125.63 L558.50,126.92 L559.00,128.33 L559.50,129.85 L560.00,131.47 L560.50,133.18 L561.00,134.97 L561.50,136.84 L562.00,138.78 L562.50,140.77 L563.00,142.82 L563.50,144.91 L564.00,147.02 L564.50,149.17 L565.00,151.32 L565.50,153.49 L566.00,155.66 L566.50,157.82 L566.90,159.54 L566.90,214.6 Z" fill="#2b3f8f" fill-opacity="0.27"/>
</g>
<g clip-path="url(#cf)">
<path d="M505.80,214.59 L506.30,214.58 L506.80,214.58 L507.30,214.58 L507.80,214.57 L508.30,214.56 L508.80,214.56 L509.30,214.55 L509.80,214.54 L510.30,214.53 L510.80,214.51 L511.30,214.50 L511.80,214.48 L512.30,214.46 L512.80,214.43 L513.30,214.40 L513.80,214.37 L514.30,214.33 L514.80,214.29 L515.30,214.23 L515.80,214.18 L516.30,214.11 L516.80,214.03 L517.30,213.94 L517.80,213.84 L518.30,213.73 L518.80,213.60 L519.30,213.45 L519.80,213.29 L520.30,213.10 L520.80,212.90 L521.30,212.67 L521.80,212.41 L522.30,212.12 L522.80,211.80 L523.30,211.45 L523.80,211.06 L524.30,210.64 L524.80,210.16 L525.30,209.65 L525.80,209.08 L526.30,208.47 L526.80,207.80 L527.30,207.07 L527.80,206.28 L528.30,205.43 L528.80,204.51 L529.30,203.53 L529.80,202.47 L530.30,201.34 L530.80,200.13 L531.30,198.85 L531.80,197.49 L532.30,196.04 L532.80,194.52 L533.30,192.92 L533.80,191.24 L534.30,189.48 L534.80,187.64 L535.30,185.72 L535.80,183.73 L536.30,181.67 L536.80,179.55 L537.30,177.36 L537.80,175.11 L538.30,172.81 L538.80,170.46 L539.30,168.08 L539.80,165.66 L540.30,163.22 L540.80,160.76 L541.30,158.30 L541.80,155.83 L542.30,153.38 L542.80,150.95 L543.30,148.54 L543.80,146.18 L544.30,143.87 L544.80,141.61 L545.30,139.43 L545.80,137.32 L546.30,135.31 L546.80,133.39 L547.30,131.58 L547.80,129.88 L548.30,128.30 L548.80,126.85 L549.30,125.53 L549.80,124.35 L550.30,123.32 L550.80,122.43 L551.30,121.69 L551.80,121.09 L552.30,120.64 L552.80,120.34 L553.30,120.18 L553.80,120.15 L554.30,120.27 L554.80,120.57 L555.30,121.03 L555.80,121.67 L556.30,122.47 L556.80,123.43 L557.30,124.54 L557.80,125.80 L558.30,127.20 L558.80,128.73 L559.30,130.38 L559.80,132.14 L560.30,134.00 L560.80,135.96 L561.30,137.99 L561.80,140.10 L562.30,142.26 L562.80,144.47 L563.30,146.72 L563.80,149.00 L564.30,151.30 L564.80,153.61 L565.30,155.92 L565.80,158.22 L566.30,160.51 L566.80,162.77 L567.30,165.00 L567.80,167.20 L568.30,169.36 L568.80,171.47 L569.30,173.53 L569.80,175.54 L570.30,177.49 L570.80,179.38 L571.30,181.21 L571.80,182.97 L572.30,184.68 L572.80,186.31 L573.30,187.88 L573.80,189.39 L574.30,190.83 L574.80,192.20 L575.30,193.52 L575.80,194.77 L576.30,195.96 L576.80,197.09 L577.30,198.16 L577.80,199.17 L578.30,200.14 L578.80,201.04 L579.30,201.90 L579.80,202.71 L580.30,203.48 L580.80,204.20 L581.30,204.87 L581.80,205.51 L582.30,206.11 L582.80,206.67 L583.30,207.19 L583.80,207.69 L584.30,208.15 L584.80,208.58 L585.30,208.99 L585.80,209.37 L586.30,209.72 L586.80,210.05 L587.30,210.36 L587.80,210.65 L588.30,210.92 L588.80,211.17 L589.30,211.41 L589.80,211.63 L590.30,211.83 L590.80,212.02 L591.30,212.20 L591.80,212.37 L592.30,212.52 L592.80,212.66 L593.30,212.80 L593.80,212.92 L594.30,213.03 L594.80,213.14 L595.30,213.24 L595.80,213.34 L596.30,213.42 L596.80,213.50 L597.30,213.58 L597.80,213.65 L598.30,213.71 L598.80,213.77 L599.30,213.83 L599.80,213.88 L600.30,213.93 L600.80,213.98 L601.30,214.02 L601.80,214.06 L602.30,214.09 L602.80,214.13 L603.30,214.16 L603.80,214.19 L604.30,214.22 L604.80,214.24 L605.30,214.26 L605.80,214.29 L606.30,214.31 L606.80,214.33 L607.30,214.34 L607.80,214.36 L608.30,214.38 L608.80,214.39 L609.30,214.40 L609.80,214.42 L610.30,214.43" fill="none" stroke="#6ab6e0" stroke-width="0.95"/>
<path d="M505.80,214.60 L506.30,214.60 L506.80,214.60 L507.30,214.60 L507.80,214.60 L508.30,214.60 L508.80,214.60 L509.30,214.60 L509.80,214.59 L510.30,214.59 L510.80,214.59 L511.30,214.59 L511.80,214.59 L512.30,214.58 L512.80,214.58 L513.30,214.57 L513.80,214.57 L514.30,214.56 L514.80,214.55 L515.30,214.54 L515.80,214.52 L516.30,214.51 L516.80,214.49 L517.30,214.46 L517.80,214.44 L518.30,214.40 L518.80,214.36 L519.30,214.32 L519.80,214.26 L520.30,214.20 L520.80,214.12 L521.30,214.04 L521.80,213.94 L522.30,213.82 L522.80,213.68 L523.30,213.53 L523.80,213.35 L524.30,213.15 L524.80,212.92 L525.30,212.66 L525.80,212.36 L526.30,212.02 L526.80,211.65 L527.30,211.22 L527.80,210.75 L528.30,210.22 L528.80,209.64 L529.30,208.99 L529.80,208.27 L530.30,207.49 L530.80,206.62 L531.30,205.68 L531.80,204.65 L532.30,203.53 L532.80,202.31 L533.30,201.01 L533.80,199.60 L534.30,198.09 L534.80,196.48 L535.30,194.77 L535.80,192.95 L536.30,191.03 L536.80,189.00 L537.30,186.88 L537.80,184.65 L538.30,182.33 L538.80,179.93 L539.30,177.44 L539.80,174.88 L540.30,172.24 L540.80,169.56 L541.30,166.82 L541.80,164.04 L542.30,161.25 L542.80,158.44 L543.30,155.63 L543.80,152.83 L544.30,150.07 L544.80,147.34 L545.30,144.68 L545.80,142.09 L546.30,139.59 L546.80,137.19 L547.30,134.91 L547.80,132.75 L548.30,130.74 L548.80,128.88 L549.30,127.18 L549.80,125.65 L550.30,124.30 L550.80,123.14 L551.30,122.17 L551.80,121.39 L552.30,120.80 L552.80,120.41 L553.30,120.19 L553.80,120.15 L554.30,120.26 L554.80,120.52 L555.30,120.93 L555.80,121.49 L556.30,122.20 L556.80,123.05 L557.30,124.03 L557.80,125.15 L558.30,126.39 L558.80,127.76 L559.30,129.23 L559.80,130.81 L560.30,132.48 L560.80,134.24 L561.30,136.09 L561.80,138.00 L562.30,139.97 L562.80,142.00 L563.30,144.07 L563.80,146.17 L564.30,148.31 L564.80,150.46 L565.30,152.62 L565.80,154.79 L566.30,156.96 L566.80,159.11 L567.30,161.25 L567.80,163.37 L568.30,165.45 L568.80,167.51 L569.30,169.53 L569.80,171.51 L570.30,173.44 L570.80,175.33 L571.30,177.17 L571.80,178.96 L572.30,180.69 L572.80,182.36 L573.30,183.98 L573.80,185.55 L574.30,187.05 L574.80,188.50 L575.30,189.89 L575.80,191.22 L576.30,192.50 L576.80,193.72 L577.30,194.88 L577.80,196.00 L578.30,197.06 L578.80,198.06 L579.30,199.02 L579.80,199.94 L580.30,200.80 L580.80,201.62 L581.30,202.40 L581.80,203.13 L582.30,203.83 L582.80,204.48 L583.30,205.10 L583.80,205.69 L584.30,206.24 L584.80,206.76 L585.30,207.25 L585.80,207.71 L586.30,208.15 L586.80,208.55 L587.30,208.94 L587.80,209.30 L588.30,209.63 L588.80,209.95 L589.30,210.25 L589.80,210.53 L590.30,210.79 L590.80,211.03 L591.30,211.26 L591.80,211.48 L592.30,211.68 L592.80,211.87 L593.30,212.05 L593.80,212.21 L594.30,212.37 L594.80,212.51 L595.30,212.65 L595.80,212.77 L596.30,212.89 L596.80,213.00 L597.30,213.10 L597.80,213.20 L598.30,213.29 L598.80,213.38 L599.30,213.45 L599.80,213.53 L600.30,213.60 L600.80,213.66 L601.30,213.72 L601.80,213.78 L602.30,213.83 L602.80,213.88 L603.30,213.93 L603.80,213.97 L604.30,214.01 L604.80,214.05 L605.30,214.08 L605.80,214.11 L606.30,214.14 L606.80,214.17 L607.30,214.20 L607.80,214.22 L608.30,214.25 L608.80,214.27 L609.30,214.29 L609.80,214.31 L610.30,214.33" fill="none" stroke="#3247a0" stroke-width="1.25" stroke-dasharray="3.3,1.7"/>
</g>
<rect x="505.8" y="110.7" width="104.50" height="103.90" fill="none" stroke="#666666" stroke-width="1.0"/>
<line x1="505.8" y1="214.6" x2="610.3" y2="214.6" stroke="#3b4265" stroke-width="1.0"/>
<line x1="63" y1="216.7" x2="63" y2="219.0" stroke="#4a4a4a" stroke-width="1.05"/>
<line x1="89.5" y1="216.7" x2="89.5" y2="219.0" stroke="#4a4a4a" stroke-width="1.05"/>
<line x1="116" y1="216.7" x2="116" y2="219.0" stroke="#4a4a4a" stroke-width="1.05"/>
<line x1="141.7" y1="216.7" x2="141.7" y2="219.0" stroke="#4a4a4a" stroke-width="1.05"/>
<line x1="37.4" y1="111.6" x2="35.1" y2="111.6" stroke="#4a4a4a" stroke-width="1.05"/>
<line x1="37.4" y1="140.5" x2="35.1" y2="140.5" stroke="#4a4a4a" stroke-width="1.05"/>
<line x1="37.4" y1="169.2" x2="35.1" y2="169.2" stroke="#4a4a4a" stroke-width="1.05"/>
<line x1="37.4" y1="198.2" x2="35.1" y2="198.2" stroke="#4a4a4a" stroke-width="1.05"/>
<line x1="166.2" y1="216.7" x2="166.2" y2="219.0" stroke="#4a4a4a" stroke-width="1.05"/>
<line x1="194.5" y1="216.7" x2="194.5" y2="219.0" stroke="#4a4a4a" stroke-width="1.05"/>
<line x1="223.5" y1="216.7" x2="223.5" y2="219.0" stroke="#4a4a4a" stroke-width="1.05"/>
<line x1="251.9" y1="216.7" x2="251.9" y2="219.0" stroke="#4a4a4a" stroke-width="1.05"/>
<line x1="401.5" y1="214.2" x2="401.5" y2="216.5" stroke="#4a4a4a" stroke-width="1.05"/>
<line x1="429.2" y1="214.2" x2="429.2" y2="216.5" stroke="#4a4a4a" stroke-width="1.05"/>
<line x1="456.5" y1="214.2" x2="456.5" y2="216.5" stroke="#4a4a4a" stroke-width="1.05"/>
<line x1="484" y1="214.2" x2="484" y2="216.5" stroke="#4a4a4a" stroke-width="1.05"/>
<line x1="396.59999999999997" y1="132.3" x2="394.3" y2="132.3" stroke="#4a4a4a" stroke-width="1.05"/>
<line x1="396.59999999999997" y1="165.7" x2="394.3" y2="165.7" stroke="#4a4a4a" stroke-width="1.05"/>
<line x1="396.59999999999997" y1="199.3" x2="394.3" y2="199.3" stroke="#4a4a4a" stroke-width="1.05"/>
<line x1="521.6" y1="214.2" x2="521.6" y2="216.5" stroke="#4a4a4a" stroke-width="1.05"/>
<line x1="554.8" y1="214.2" x2="554.8" y2="216.5" stroke="#4a4a4a" stroke-width="1.05"/>
<line x1="588" y1="214.2" x2="588" y2="216.5" stroke="#4a4a4a" stroke-width="1.05"/>
<text x="24.5" y="116.8" transform="rotate(-45 24.5 116.8)" text-anchor="middle" dy="0.33em" class="t">0.60</text>
<text x="24.5" y="145.7" transform="rotate(-45 24.5 145.7)" text-anchor="middle" dy="0.33em" class="t">0.45</text>
<text x="24.5" y="174.39999999999998" transform="rotate(-45 24.5 174.39999999999998)" text-anchor="middle" dy="0.33em" class="t">0.30</text>
<text x="24.5" y="203.39999999999998" transform="rotate(-45 24.5 203.39999999999998)" text-anchor="middle" dy="0.33em" class="t">0.15</text>
<text x="62.7" y="226.8" transform="rotate(-45 62.7 226.8)" text-anchor="middle" dy="0.33em" class="t">0.6</text>
<text x="89.2" y="226.8" transform="rotate(-45 89.2 226.8)" text-anchor="middle" dy="0.33em" class="t">0.8</text>
<text x="115.7" y="226.8" transform="rotate(-45 115.7 226.8)" text-anchor="middle" dy="0.33em" class="t">1.0</text>
<text x="141.39999999999998" y="226.8" transform="rotate(-45 141.39999999999998 226.8)" text-anchor="middle" dy="0.33em" class="t">1.2</text>
<text x="166.2" y="228.7" transform="rotate(-45 166.2 228.7)" text-anchor="middle" dy="0.33em" class="t">0.15</text>
<text x="194.5" y="228.7" transform="rotate(-45 194.5 228.7)" text-anchor="middle" dy="0.33em" class="t">0.30</text>
<text x="223.5" y="228.7" transform="rotate(-45 223.5 228.7)" text-anchor="middle" dy="0.33em" class="t">0.45</text>
<text x="251.9" y="228.7" transform="rotate(-45 251.9 228.7)" text-anchor="middle" dy="0.33em" class="t">0.60</text>
<text x="384" y="137.3" transform="rotate(-45 384 137.3)" text-anchor="middle" dy="0.33em" class="t">0.45</text>
<text x="384" y="170.7" transform="rotate(-45 384 170.7)" text-anchor="middle" dy="0.33em" class="t">0.30</text>
<text x="384" y="204.3" transform="rotate(-45 384 204.3)" text-anchor="middle" dy="0.33em" class="t">0.15</text>
<text x="402.3" y="226.7" transform="rotate(-45 402.3 226.7)" text-anchor="middle" dy="0.33em" class="t">−2.0</text>
<text x="430.0" y="226.7" transform="rotate(-45 430.0 226.7)" text-anchor="middle" dy="0.33em" class="t">−1.5</text>
<text x="457.3" y="226.7" transform="rotate(-45 457.3 226.7)" text-anchor="middle" dy="0.33em" class="t">−1.0</text>
<text x="484.8" y="226.7" transform="rotate(-45 484.8 226.7)" text-anchor="middle" dy="0.33em" class="t">−0.5</text>
<text x="521.3000000000001" y="226.7" transform="rotate(-45 521.3000000000001 226.7)" text-anchor="middle" dy="0.33em" class="t">0.15</text>
<text x="554.5" y="226.7" transform="rotate(-45 554.5 226.7)" text-anchor="middle" dy="0.33em" class="t">0.30</text>
<text x="587.7" y="226.7" transform="rotate(-45 587.7 226.7)" text-anchor="middle" dy="0.33em" class="t">0.45</text>
<text x="0" y="0" font-family="Liberation Serif" font-size="100.0" font-style="italic" fill="#000" transform="matrix(0.16360 0 0 0.14846 82.363 247.805)">σ</text>
<text x="0" y="0" font-family="Liberation Serif" font-size="100.0" fill="#111" transform="matrix(0.10618 0 0 0.10966 91.046 249.843)">8</text>
<text x="0" y="0" font-family="Liberation Serif" font-size="100.0" fill="#333" transform="matrix(0.15321 0 0 0.16463 189.457 250.150)">Ω</text>
<text x="0" y="0" font-family="Liberation Serif" font-size="100.0" fill="#2a2a2a" transform="matrix(0.09714 0 0 0.09975 200.646 252.950)">m</text>
<text x="0" y="0" font-family="Liberation Serif" font-size="100.0" font-style="italic" fill="#151515" transform="matrix(0.17775 0 0 0.16213 442.525 250.492)">w</text>
<text x="0" y="0" font-family="Liberation Serif" font-size="100.0" fill="#333" transform="matrix(0.15165 0 0 0.16463 548.265 248.650)">Ω</text>
<text x="0" y="0" font-family="Liberation Serif" font-size="100.0" fill="#2a2a2a" transform="matrix(0.09984 0 0 0.09550 559.440 250.550)">m</text>
<text x="0" y="0" font-family="Liberation Serif" font-size="100.0" fill="#333" transform="rotate(-90) matrix(0.15321 0 0 0.16614 -174.243 11.250)">Ω</text>
<text x="0" y="0" font-family="Liberation Serif" font-size="100.0" fill="#2a2a2a" transform="rotate(-90) matrix(0.09579 0 0 0.10187 -162.051 13.450)">m</text>
<text x="0" y="0" font-family="Liberation Serif" font-size="100.0" fill="#333" transform="rotate(-90) matrix(0.16259 0 0 0.16614 -172.892 370.550)">Ω</text>
<text x="0" y="0" font-family="Liberation Serif" font-size="100.0" fill="#2a2a2a" transform="rotate(-90) matrix(0.09579 0 0 0.09762 -161.151 372.550)">m</text>
<text x="0" y="0" font-family="Liberation Serif" font-size="15.0" fill="#62acd6" transform="matrix(0.98953 0 0 1.06 162.605 41.7)">ΛCDM</text>
<text x="0" y="0" font-family="Liberation Serif" font-size="15.0" fill="#62acd6" transform="matrix(1.02657 0 0 1.06 212.179 41.7)">-</text>
<text x="0" y="0" font-family="Liberation Serif" font-size="15.0" fill="#62acd6" transform="matrix(1.00796 0 0 1.06 222.947 41.7)">relaxed</text>
<text x="0" y="0" font-family="Liberation Serif" font-size="15.0" fill="#62acd6" transform="matrix(1.04673 0 0 1.06 273.152 41.7)">calibration</text>
<text x="0" y="0" font-family="Liberation Serif" font-size="15.0" fill="#3a4b96" transform="matrix(0.98953 0 0 1.06 162.605 65.5)">ΛCDM</text>
<text x="0" y="0" font-family="Liberation Serif" font-size="15.0" fill="#3a4b96" transform="matrix(0.89825 0 0 1.06 212.750 65.5)">-</text>
<text x="0" y="0" font-family="Liberation Serif" font-size="15.0" fill="#3a4b96" transform="matrix(0.92790 0 0 1.06 222.822 65.5)">fixed</text>
<text x="0" y="0" font-family="Liberation Serif" font-size="15.0" fill="#3a4b96" transform="matrix(1.04989 0 0 1.06 257.650 65.5)">calibration</text>
<text x="0" y="0" font-family="Liberation Serif" font-size="100.0" font-style="italic" fill="#62acd6" transform="matrix(0.14629 0 0 0.17067 521.250 40.533)">w</text>
<text x="0" y="0" font-family="Liberation Serif" font-size="15.0" fill="#62acd6" transform="matrix(1.01147 0 0 1.06 532.628 40.6)">CDM</text>
<text x="0" y="0" font-family="Liberation Serif" font-size="15.0" fill="#62acd6" transform="matrix(1.02657 0 0 1.06 572.179 40.6)">-</text>
<text x="0" y="0" font-family="Liberation Serif" font-size="15.0" fill="#62acd6" transform="matrix(0.99651 0 0 1.06 582.951 40.6)">relaxed</text>
<text x="0" y="0" font-family="Liberation Serif" font-size="15.0" fill="#62acd6" transform="matrix(1.04200 0 0 1.06 632.655 40.6)">calibration</text>
<text x="0" y="0" font-family="Liberation Serif" font-size="100.0" font-style="italic" fill="#3a4b96" transform="matrix(0.14629 0 0 0.17280 521.250 64.031)">w</text>
<text x="0" y="0" font-family="Liberation Serif" font-size="15.0" fill="#3a4b96" transform="matrix(1.01147 0 0 1.06 532.628 64.2)">CDM</text>
<text x="0" y="0" font-family="Liberation Serif" font-size="15.0" fill="#3a4b96" transform="matrix(1.02657 0 0 1.06 572.179 64.2)">-</text>
<text x="0" y="0" font-family="Liberation Serif" font-size="15.0" fill="#3a4b96" transform="matrix(0.94447 0 0 1.06 582.214 64.2)">fixed</text>
<text x="0" y="0" font-family="Liberation Serif" font-size="15.0" fill="#3a4b96" transform="matrix(1.04831 0 0 1.06 617.351 64.2)">calibration</text>
</svg></div>
</body></html>
